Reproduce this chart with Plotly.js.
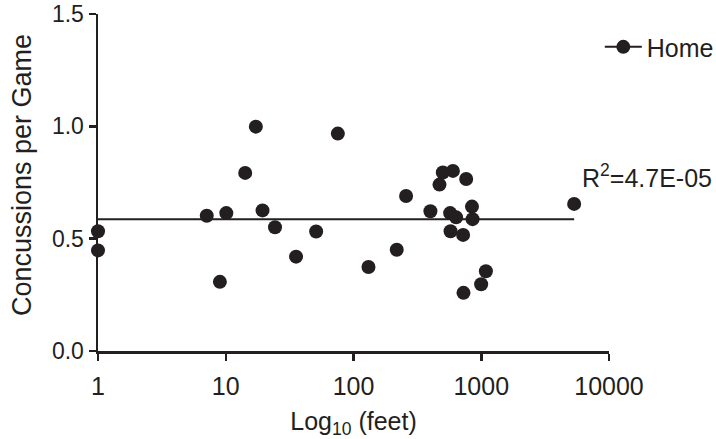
<!DOCTYPE html>
<html>
<head>
<meta charset="utf-8">
<script src="https://cdn.plot.ly/plotly-3.0.1.min.js"></script>
<style>
  html, body { margin: 0; padding: 0; background: #ffffff; }
  #chart { width: 716px; height: 439px; }
</style>
</head>
<body>
<div id="chart"></div>
<script>
// Distance (feet, plotted on a log10 axis) and concussions per game, series "Home"
const distanceFeet = [1, 1, 7.1, 9.0, 10.1, 14.2, 17.2, 19.4, 24.3, 35.5, 51, 75.4, 131, 218, 258,
  400, 471, 500, 600, 762, 571, 636, 575, 721, 726, 998, 1087, 846, 855, 5336];
const concussionsPerGame = [0.533, 0.448, 0.602, 0.308, 0.614, 0.793, 0.999, 0.626, 0.551, 0.420, 0.532, 0.968, 0.374, 0.451, 0.690,
  0.622, 0.741, 0.795, 0.802, 0.766, 0.614, 0.595, 0.533, 0.517, 0.259, 0.297, 0.355, 0.643, 0.587, 0.655];
const seriesName = "Home";
const rSquaredLabel = "R<sup>2</sup>=4.7E-05";
const xTickValues = [1, 10, 100, 1000, 10000];
const xTickLabels = ["1", "10", "100", "1000", "10000"];
const yTickValues = [0, 0.5, 1.0, 1.5];
const yTickLabels = ["0.0", "0.5", "1.0", "1.5"];
// Regression line as drawn in the figure (nearly flat), spanning the data range
const fitX = [1, 5336];
const fitY = [0.587, 0.587];

const ink = "#231f20";
const font = "Liberation Sans, Arial, Helvetica, sans-serif";

const traces = [
  {
    x: distanceFeet, y: concussionsPerGame, type: "scatter", mode: "markers",
    marker: { color: ink, size: 14 }, showlegend: false, cliponaxis: false, hoverinfo: "x+y"
  },
  {
    x: fitX, y: fitY, type: "scatter", mode: "lines",
    line: { color: ink, width: 2 }, showlegend: false, cliponaxis: false, hoverinfo: "skip"
  },
  {
    x: [null], y: [null], type: "scatter", mode: "lines+markers", name: seriesName,
    line: { color: ink, width: 2 }, marker: { color: ink, size: 14 }, showlegend: true
  }
];

const axisCommon = {
  showline: true, linecolor: ink, linewidth: 2.5,
  ticks: "outside", ticklen: 7, tickwidth: 2.5, tickcolor: ink,
  showgrid: false, zeroline: false,
  ticklabeloverflow: "allow",
  tickfont: { family: font, size: 23, color: ink },
  layer: "below traces"
};

const layout = {
  width: 716, height: 439,
  margin: { l: 98, r: 107, t: 14, b: 88, autoexpand: false },
  paper_bgcolor: "#ffffff", plot_bgcolor: "#ffffff",
  font: { family: font, color: ink },
  xaxis: Object.assign({}, axisCommon, {
    type: "log", range: [0, 4],
    tickmode: "array", tickvals: xTickValues, ticktext: xTickLabels,
    ticklabelstandoff: 4,
    tickfont: { family: font, size: 25, color: ink },
    title: { text: "Log<sub>10</sub> (feet)", font: { family: font, size: 25, color: ink }, standoff: 16 }
  }),
  yaxis: Object.assign({}, axisCommon, {
    range: [0, 1.5005],
    tickmode: "array", tickvals: yTickValues, ticktext: yTickLabels
  }),
  legend: {
    x: 0.982, y: 0.97, xanchor: "left", yanchor: "top",
    font: { family: font, size: 25, color: ink },
    bgcolor: "rgba(0,0,0,0)", itemwidth: 37
  },
  annotations: [
    {
      x: 0, y: 0.522, xref: "paper", yref: "paper",
      text: "Concussions per Game", textangle: -90, showarrow: false,
      xanchor: "center", yanchor: "middle", xshift: -76,
      font: { family: font, size: 27, color: ink }
    },
    {
      x: Math.log10(fitX[1]), y: concussionsPerGame[concussionsPerGame.length - 1], xref: "x", yref: "y",
      text: rSquaredLabel, showarrow: false,
      xanchor: "left", yanchor: "bottom", xshift: 6, yshift: 10,
      font: { family: font, size: 25, color: ink }
    }
  ]
};

Plotly.newPlot("chart", traces, layout, { displayModeBar: false, staticPlot: true });
</script>
</body>
</html>
